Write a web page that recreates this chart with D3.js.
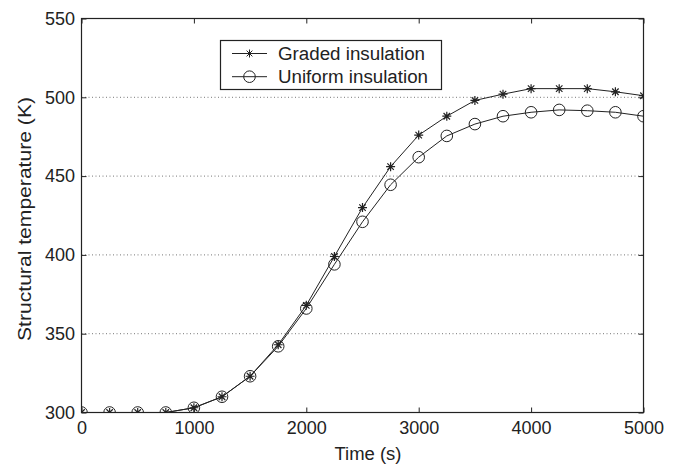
<!DOCTYPE html>
<html>
<head>
<meta charset="utf-8">
<script src="https://cdn.jsdelivr.net/npm/d3@7"></script>
<style>
  body { margin: 0; background: #fff; }
  text { font-family: "Liberation Sans", Arial, sans-serif; fill: #222; }
</style>
</head>
<body>
<div id="chart"></div>
<script>
// time steps (s)
var times = [0, 250, 500, 750, 1000, 1250, 1500, 1750, 2000, 2250, 2500,
             2750, 3000, 3250, 3500, 3750, 4000, 4250, 4500, 4750, 5000];
var graded = [300, 300, 300, 300, 303, 310, 323, 343, 368, 399, 430,
              456, 476, 488, 498, 502, 505.5, 505.5, 505.5, 503.5, 501];
var uniform = [300, 300, 300, 300, 303, 310, 323, 342, 366, 394, 421,
               444.5, 462, 475.5, 483, 488, 490.5, 492, 491.5, 490.5, 488];
var xTicks = [0, 1000, 2000, 3000, 4000, 5000];
var yTicks = [300, 350, 400, 450, 500, 550];
var gridY = [350, 400, 450, 500];

var width = 680, height = 466;
var mLeft = 81.5, mRight = 643.5, mTop = 18.5, mBottom = 412.5;
var ink = "#222";
var fs = 18;

var svg = d3.select("#chart").append("svg")
    .attr("width", width)
    .attr("height", height);

var x = d3.scaleLinear().domain([0, 5000]).range([mLeft, mRight]);
var y = d3.scaleLinear().domain([300, 550]).range([mBottom, mTop]);

svg.append("defs").append("clipPath").attr("id", "plotclip")
    .append("rect")
    .attr("x", mLeft).attr("y", mTop)
    .attr("width", mRight - mLeft).attr("height", mBottom - mTop);

// dotted grid lines
svg.selectAll(".grid")
    .data(gridY)
    .enter()
    .append("line")
    .attr("x1", mLeft).attr("x2", mRight)
    .attr("y1", function (d) { return y(d); })
    .attr("y2", function (d) { return y(d); })
    .attr("stroke", "#777")
    .attr("stroke-width", 1)
    .attr("stroke-dasharray", "1,2.5");

// axes with inward ticks on all four sides
var tick = 5;
var fmt = d3.format("d");
svg.append("g").attr("transform", "translate(0," + mBottom + ")")
    .call(d3.axisBottom(x).tickValues(xTicks).tickSize(-tick).tickPadding(9).tickFormat(fmt))
    .call(function (g) { g.select(".domain").remove(); });
svg.append("g").attr("transform", "translate(0," + mTop + ")")
    .call(d3.axisTop(x).tickValues(xTicks).tickSize(-tick).tickFormat(""))
    .call(function (g) { g.select(".domain").remove(); });
svg.append("g").attr("transform", "translate(" + mLeft + ",0)")
    .call(d3.axisLeft(y).tickValues(yTicks).tickSize(-tick).tickPadding(6.5).tickFormat(fmt))
    .call(function (g) { g.select(".domain").remove(); });
svg.append("g").attr("transform", "translate(" + mRight + ",0)")
    .call(d3.axisRight(y).tickValues(yTicks).tickSize(-tick).tickFormat(""))
    .call(function (g) { g.select(".domain").remove(); });

svg.selectAll(".tick line").attr("stroke", ink);
svg.selectAll(".tick text")
    .attr("font-size", fs)
    .attr("font-family", "Liberation Sans, Arial, sans-serif")
    .attr("fill", ink);

// frame
svg.append("rect")
    .attr("x", mLeft).attr("y", mTop)
    .attr("width", mRight - mLeft).attr("height", mBottom - mTop)
    .attr("fill", "none")
    .attr("stroke", ink)
    .attr("stroke-width", 1.2);

var line = d3.line()
    .x(function (d, i) { return x(times[i]); })
    .y(function (d) { return y(d); });

var plot = svg.append("g").attr("clip-path", "url(#plotclip)");

plot.append("path").datum(graded)
    .attr("d", line).attr("fill", "none")
    .attr("stroke", ink).attr("stroke-width", 1);
plot.append("path").datum(uniform)
    .attr("d", line).attr("fill", "none")
    .attr("stroke", ink).attr("stroke-width", 1);

// asterisk marker
var star = function (r) {
    var d = r * 0.72;
    return "M" + (-r) + ",0L" + r + ",0M0," + (-r) + "L0," + r +
        "M" + (-d) + "," + (-d) + "L" + d + "," + d +
        "M" + (-d) + "," + d + "L" + d + "," + (-d);
};

plot.selectAll(".star")
    .data(graded)
    .enter()
    .append("path")
    .attr("d", star(4.5))
    .attr("transform", function (d, i) { return "translate(" + x(times[i]) + "," + y(d) + ")"; })
    .attr("stroke", ink).attr("stroke-width", 1.2).attr("fill", "none");

plot.selectAll(".circ")
    .data(uniform)
    .enter()
    .append("circle")
    .attr("cx", function (d, i) { return x(times[i]); })
    .attr("cy", function (d) { return y(d); })
    .attr("r", 5.8)
    .attr("stroke", ink).attr("stroke-width", 1).attr("fill", "none");

// legend
var lg = svg.append("g");
lg.append("rect")
    .attr("x", 220.5).attr("y", 40.5)
    .attr("width", 221).attr("height", 49)
    .attr("fill", "#fff").attr("stroke", ink).attr("stroke-width", 1.2);

var legendItems = ["Graded insulation", "Uniform insulation"];
var legendLen = [147, 150];
legendItems.forEach(function (name, i) {
    var ly = 53.5 + i * 23.2;
    lg.append("line")
        .attr("x1", 232).attr("x2", 267)
        .attr("y1", ly).attr("y2", ly)
        .attr("stroke", ink).attr("stroke-width", 1);
    if (i === 0) {
        lg.append("path").attr("d", star(4))
            .attr("transform", "translate(249.5," + ly + ")")
            .attr("stroke", ink).attr("fill", "none");
    } else {
        lg.append("circle").attr("cx", 249.5).attr("cy", ly).attr("r", 5.8)
            .attr("stroke", ink).attr("fill", "none");
    }
    lg.append("text")
        .attr("x", 278).attr("y", ly + 6.5)
        .attr("font-size", fs)
        .attr("textLength", legendLen[i])
        .attr("lengthAdjust", "spacingAndGlyphs")
        .text(name);
});

// axis titles
svg.append("text")
    .attr("x", 368).attr("y", 460)
    .attr("text-anchor", "middle")
    .attr("font-size", fs)
    .attr("textLength", 67)
    .attr("lengthAdjust", "spacingAndGlyphs")
    .text("Time (s)");

svg.append("text")
    .attr("transform", "translate(31,219) rotate(-90)")
    .attr("text-anchor", "middle")
    .attr("font-size", fs)
    .attr("textLength", 244)
    .attr("lengthAdjust", "spacingAndGlyphs")
    .text("Structural temperature (K)");
</script>
</body>
</html>
